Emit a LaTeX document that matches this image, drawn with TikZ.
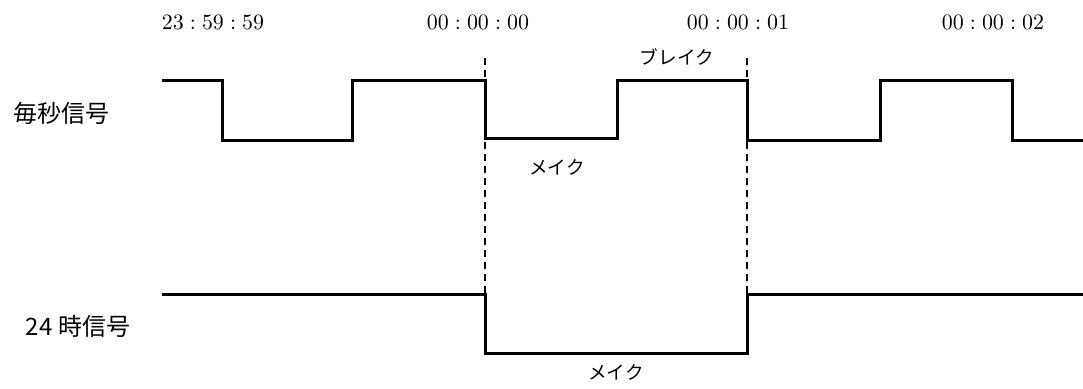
\documentclass[tikz,border=0pt]{standalone}
\usepackage{fontspec}
\newfontfamily\jp{Noto Sans CJK JP}
\usetikzlibrary{positioning}
\begin{document}
\begin{tikzpicture}[x=0.5pt,y=-0.5pt]
		\tikzstyle{signal}=[line width=1.5pt, line join=miter]
		\tikzstyle{guide}=[line width=0.6pt, dash pattern=on 3.5pt off 2.5pt]
		\tikzstyle{timemark}=[inner sep=0pt, font=\fontsize{11.4}{13}\selectfont]
		\tikzstyle{signame}=[inner sep=0pt, font=\jp\fontsize{12}{14}\selectfont]
		\tikzstyle{contact}=[inner sep=0pt, font=\jp\fontsize{9.3}{11}\selectfont]

		\useasboundingbox (0,0) rectangle (1083,389);

		% time marks
		\node [timemark] (t0) at (213,22) {$23:59:59$};
		\node [timemark] (t1) at (478,22) {$00:00:00$};
		\node [timemark] (t2) at (738,22) {$00:00:01$};
		\node [timemark] (t3) at (993,22) {$00:00:02$};

		% signal names
		\node [signame] (sec) at (61,113) {毎秒信号};
		\node [signame] (hour) at (78,326) {24 時信号};

		% per-second signal
		\draw [signal] (162,81) -- (222,81) -- (222,141) -- (352,141) -- (352,81)
			-- (485,81) -- (485,139) -- (617,139) -- (617,81) -- (747,81)
			-- (747,141) -- (880,141) -- (880,81) -- (1012,81) -- (1012,141) -- (1083,141);

		% 24-hour signal
		\draw [signal] (162,295) -- (485,295) -- (485,354) -- (747,354) -- (747,295) -- (1083,295);

		% guides
		\coordinate (g0) at (485,58);
		\coordinate (g1) at (747,58);
		\draw [guide] (g0) -- (g0 |- 0,295);
		\draw [guide] (g1) -- (g1 |- 0,295);

		\node [contact] (brk) at (677,57) {ブレイク};
		\node [contact] (mk1) at (557,167) {メイク};
		\node [contact] (mk2) at (616,372) {メイク};
	\end{tikzpicture}
\end{document}
